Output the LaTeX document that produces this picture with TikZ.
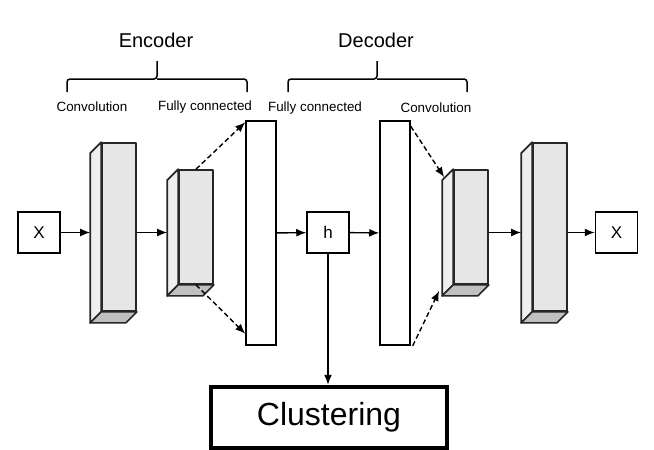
\documentclass[tikz,border=0pt]{standalone}
\usepackage{fontspec}
\setmainfont{Liberation Sans}
\usepackage{xcolor}
\usetikzlibrary{calc,arrows.meta}
\definecolor{facegray}{HTML}{E6E6E6}
\definecolor{sidegray}{HTML}{EFEFEF}
\definecolor{basegray}{HTML}{C0C0C0}
\tikzstyle{face}=[draw=black!85, line width=1.7pt, fill=facegray, inner sep=0pt, line join=round]
\tikzstyle{fcbox}=[draw, line width=1.5pt, fill=white, minimum width=30pt, minimum height=224pt, inner sep=0pt]
\tikzstyle{iobox}=[draw, line width=1.5pt, minimum width=42pt, minimum height=41pt, inner sep=0pt, font=\fontsize{17}{20}\selectfont]
\tikzstyle{layer}=[font=\fontsize{13.4}{16}\selectfont]
\tikzstyle{part}=[font=\fontsize{20}{24}\selectfont]
\tikzstyle{brace}=[line width=1.5pt, rounded corners=3pt]
\tikzstyle{flow}=[-{Latex[length=10pt,width=8pt]}, line width=1.4pt]
\tikzstyle{fcflow}=[flow, dash pattern=on 5pt off 3pt]

\begin{document}
\begin{tikzpicture}[x=1pt, y=-1pt]
\useasboundingbox (0,0) rectangle (654,450);
\foreach \n/\x/\h in {c1/119/168, c2/196/114, c3/471/114, c4/550/168} {
 \node[face, minimum width=34pt, minimum height=\h pt] (\n) at (\x,227) {};
 \draw[face, fill=sidegray] (\n.north west) -- ++(-11,11) -- ($(\n.south west)+(-11,11)$) -- (\n.south west) -- cycle;
 \draw[face, fill=basegray] (\n.south west) -- ++(-11,11) -- ($(\n.south east)+(-11,11)$) -- (\n.south east) -- cycle;
 \coordinate (in\n) at ($(\n.west)+(-11,5.5)$);
 \coordinate (out\n) at ($(\n.east)+(0,5.5)$);
}
\node[iobox] (xin) at (39,232.5) {X};
\node[fcbox] (fc1) at (261,233) {};
\node[iobox] (h) at (328,232.5) {h};
\node[fcbox] (fc2) at (395,233) {};
\node[iobox] (xout) at (616.5,232.5) {X};
\node[draw, line width=4.5pt, minimum width=236pt, minimum height=61pt, font=\fontsize{32}{36}\selectfont] (clust) at (329,417.5) {Clustering};

\draw[flow] (xin) -- (inc1);
\draw[flow] (outc1) -- (inc2);
\draw[flow] (fc1) -- (h);
\draw[flow] (h) -- (fc2);
\draw[flow] (outc3) -- (inc4);
\draw[flow] (outc4) -- (xout);
\draw[flow] (h.south) -- (h.south |- clust.north);

\draw[fcflow] (c2.north) -- ($(fc1.north west)+(0,2)$);
\draw[fcflow] (c2.south) -- ($(fc1.south west)+(0,-12)$);
\draw[fcflow] ($(fc2.north east)+(0,6)$) -- ($(c3.north west)+(-9,8)$);
\draw[fcflow] ($(fc2.south east)+(2,0)$) -- ($(c3.south west)+(-14,6)$);

\foreach \l/\m/\r in {67/157/247, 288/377/467} {
 \draw[brace] (\l,92) |- (\m,79) -- (\m,61);
 \draw[brace] (\m,79) -| (\r,92);
}
\node[part] (enc) at (156,40) {Encoder};
\node[part] (dec) at (376,40) {Decoder};
\node[layer] (enc conv) at (92,107) {Convolution};
\node[layer] (enc fc) at (205,107) {Fully connected};
\node[layer] (dec fc) at (315,108) {Fully connected};
\node[layer] (dec conv) at (436,108) {Convolution};
\end{tikzpicture}
\end{document}
